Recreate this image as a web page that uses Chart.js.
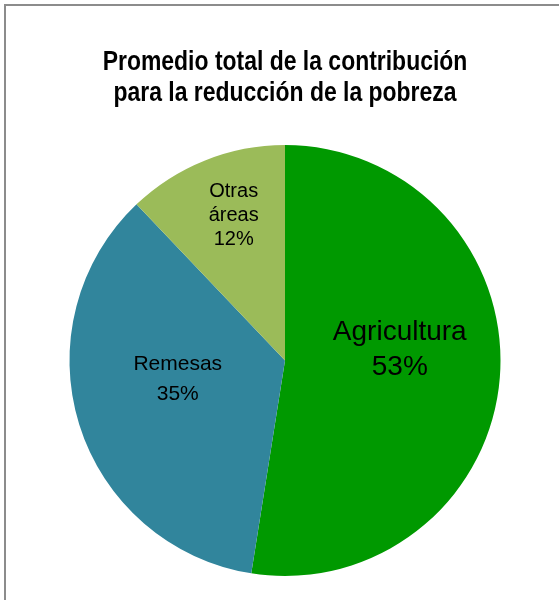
<!DOCTYPE html>
<html>
<head>
<meta charset="utf-8">
<script src="https://cdn.jsdelivr.net/npm/chart.js@4.4.0/dist/chart.umd.min.js"></script>
<style>
  html, body { margin: 0; padding: 0; background: #fff; }
  #wrap { width: 559px; height: 600px; position: relative; }
</style>
</head>
<body>
<div id="wrap"><canvas id="pieChart" width="559" height="600"></canvas></div>
<script>
const categories = ['Agricultura', 'Remesas', 'Otras áreas'];
const shares = [52.5, 35.4, 12.1];
const sliceLabels = [['Agricultura', '53%'], ['Remesas', '35%'], ['Otras', 'áreas', '12%']];
const titleLines = ['Promedio total de la contribución', 'para la reducción de la pobreza'];

const colors = ['#009900', '#31859C', '#9BBB59'];
// label placement: fraction of radius, angle tweak in degrees, font size, line height
const labelStyle = [
  { r: 0.535, turn: -10, size: 28, lh: 35 },
  { r: 0.505, turn: 7.5, size: 21, lh: 30 },
  { r: 0.714, turn: 2.3, size: 20, lh: 24 }
];
const fontFamily = '"Liberation Sans", Arial, sans-serif';

const frame = {
  id: 'frame',
  beforeDraw(chart) {
    const c = chart.ctx;
    c.save();
    c.strokeStyle = '#8c8c8c';
    c.lineWidth = 2;
    c.beginPath();
    c.moveTo(5, 700);
    c.lineTo(5, 5);
    c.lineTo(700, 5);
    c.stroke();
    c.restore();
  }
};

// title drawn by hand so it can be squeezed like a narrow font
const narrowTitle = {
  id: 'narrowTitle',
  afterDraw(chart) {
    const c = chart.ctx;
    const cx = (chart.chartArea.left + chart.chartArea.right) / 2;
    const baselines = [70, 101];
    c.save();
    c.fillStyle = '#000';
    c.textAlign = 'center';
    c.textBaseline = 'alphabetic';
    c.font = 'bold 27px ' + fontFamily;
    titleLines.forEach((t, k) => {
      c.save();
      c.translate(cx, baselines[k]);
      c.scale(0.85, 1);
      c.fillText(t, 0, 0);
      c.restore();
    });
    c.restore();
  }
};

const sliceText = {
  id: 'sliceText',
  afterDatasetsDraw(chart) {
    const c = chart.ctx;
    const arcs = chart.getDatasetMeta(0).data;
    c.save();
    c.fillStyle = '#000';
    c.textAlign = 'center';
    c.textBaseline = 'middle';
    arcs.forEach((arc, i) => {
      const st = labelStyle[i];
      const mid = (arc.startAngle + arc.endAngle) / 2 + st.turn * Math.PI / 180;
      const d = arc.outerRadius * st.r;
      const x = arc.x + Math.cos(mid) * d;
      const y = arc.y + Math.sin(mid) * d;
      const lines = sliceLabels[i];
      c.font = st.size + 'px ' + fontFamily;
      const y0 = y - (lines.length - 1) * st.lh / 2;
      lines.forEach((t, k) => c.fillText(t, x, y0 + k * st.lh));
    });
    c.restore();
  }
};

new Chart(document.getElementById('pieChart'), {
  type: 'pie',
  data: {
    labels: categories,
    datasets: [{
      data: shares,
      backgroundColor: colors,
      borderWidth: 0,
      offset: 0,
      hoverOffset: 0
    }]
  },
  options: {
    responsive: false,
    animation: false,
    layout: { padding: { left: 69, right: 58, top: 145, bottom: 24 } },
    plugins: {
      legend: { display: false },
      tooltip: { enabled: false },
      title: { display: false }
    }
  },
  plugins: [frame, narrowTitle, sliceText]
});
</script>
</body>
</html>
